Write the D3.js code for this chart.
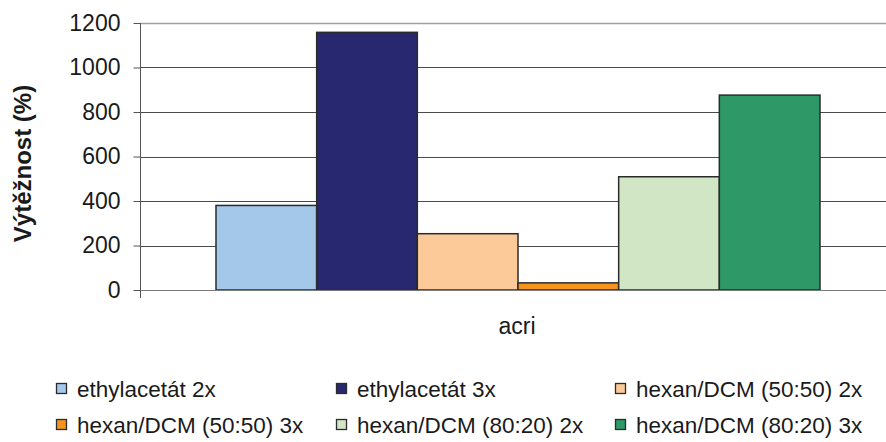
<!DOCTYPE html>
<html>
<head>
<meta charset="utf-8">
<script src="https://cdn.jsdelivr.net/npm/d3@7"></script>
<style>
  html, body { margin: 0; padding: 0; background: #fff; }
  svg { display: block; font-family: "Liberation Sans", Arial, sans-serif; }
</style>
</head>
<body>
<svg id="chart" width="886" height="442"></svg>
<script>
const categories = ["acri"];
const seriesNames = [
  "ethylacetát 2x",
  "ethylacetát 3x",
  "hexan/DCM (50:50) 2x",
  "hexan/DCM (50:50) 3x",
  "hexan/DCM (80:20) 2x",
  "hexan/DCM (80:20) 3x"
];
const seriesValues = [380, 1158, 253, 32, 509, 876];
const seriesColors = ["#a3c8ea", "#27286f", "#fbca98", "#f7941d", "#d0e6c4", "#2e9966"];
const yTicks = [0, 200, 400, 600, 800, 1000, 1200];
const yTitle = "Výtěžnost (%)";

(function () {
const svg = d3.select("#chart");
const pLeft = 140, pRight = 896, pTop = 23, pBottom = 290;

const x = d3.scaleBand().domain(categories).range([pLeft, pRight]).padding(0);
const xs = d3.scaleBand().domain(seriesNames).range([0, x.bandwidth()])
  .paddingInner(0).paddingOuter(0.755);
const y = d3.scaleLinear().domain([0, 1200]).range([pBottom, pTop]);

// gridlines
svg.append("g").selectAll("line").data(yTicks.filter(t => t > 0)).join("line")
  .attr("x1", pLeft).attr("x2", 886)
  .attr("y1", d => Math.round(y(d)) + 0.5).attr("y2", d => Math.round(y(d)) + 0.5)
  .attr("stroke", d => d === 1200 ? "#a0a0a0" : "#4a4a4a")
  .attr("stroke-width", d => d === 1200 ? 1.5 : 1);

// bars
const data = seriesNames.map((s, i) => ({ cat: categories[0], s, v: seriesValues[i], c: seriesColors[i] }));
svg.append("g").selectAll("rect").data(data).join("rect")
  .attr("x", d => x(d.cat) + xs(d.s))
  .attr("width", xs.bandwidth())
  .attr("y", d => y(d.v))
  .attr("height", d => y(0) - y(d.v))
  .attr("fill", d => d.c)
  .attr("stroke", "#2b2b2b")
  .attr("stroke-width", 1.5);

// x axis line
svg.append("line").attr("x1", pLeft).attr("x2", 886)
  .attr("y1", y(0) + 0.5).attr("y2", y(0) + 0.5)
  .attr("stroke", "#7a7a7a").attr("stroke-width", 1.2);

// y axis
const yAxis = d3.axisLeft(y).tickValues(yTicks).tickFormat(d3.format("d"))
  .tickSize(7).tickPadding(13);
const gy = svg.append("g").attr("transform", `translate(${pLeft + 0.5},0)`).call(yAxis);
gy.select(".domain").attr("stroke", "#555").attr("d", `M0,${pTop}V${pBottom + 8}`);
gy.selectAll(".tick line").attr("stroke", "#555");
gy.selectAll(".tick text").attr("fill", "#1a1a1a").style("font-size", "23px")
  .style("font-family", "'Liberation Sans', Arial, sans-serif");

// y title
svg.append("text")
  .attr("transform", `translate(31,${(pTop + pBottom) / 2 + 7}) rotate(-90)`)
  .attr("text-anchor", "middle")
  .style("font-size", "24px").style("font-weight", "bold").attr("fill", "#1a1a1a")
  .text(yTitle);

// x category label
svg.append("g").selectAll("text").data(categories).join("text")
  .attr("x", d => x(d) + x.bandwidth() / 2 - 1)
  .attr("y", 334)
  .attr("text-anchor", "middle")
  .style("font-size", "23px").attr("fill", "#1a1a1a")
  .text(d => d);

// legend
const colX = [56, 336, 615];
const rowY = [389, 425];
const lg = svg.append("g").selectAll("g").data(data).join("g")
  .attr("transform", (d, i) => `translate(${colX[i % 3]},${rowY[Math.floor(i / 3)]})`);
lg.append("rect").attr("x", 0.5).attr("y", -5.5).attr("width", 10).attr("height", 10)
  .attr("fill", d => d.c).attr("stroke", "#2b2b2b").attr("stroke-width", 1.3);
lg.append("text").attr("x", 21).attr("y", 8)
  .style("font-size", "22.5px").attr("fill", "#1a1a1a")
  .text(d => d.s);
})();
</script>
</body>
</html>
